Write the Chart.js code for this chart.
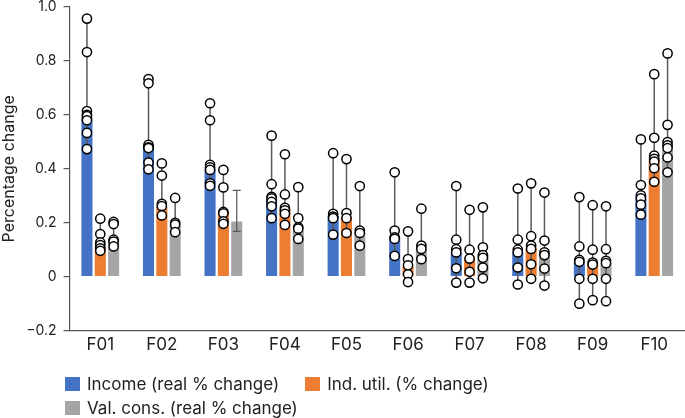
<!DOCTYPE html>
<html>
<head>
<meta charset="utf-8">
<script src="https://cdn.jsdelivr.net/npm/chart.js@4"></script>
<style>
  html, body { margin: 0; padding: 0; background: #fff; }
  #wrap { position: relative; width: 685px; height: 418px; }
  #legend { position: absolute; left: 65px; top: 375px; width: 470px; display: flex; flex-wrap: wrap;
            font-family: Inter, sans-serif; font-size: 17px; color: #222; }
  .item { display: flex; align-items: center; height: 17px; margin-right: 26px; margin-bottom: 7px; }
  .box { width: 15px; height: 14px; margin-right: 7px; }
</style>
</head>
<body>
<div id="wrap">
  <canvas id="chart" width="685" height="418"></canvas>
  <div id="legend"></div>
</div>
<script>
const categories = ['F01', 'F02', 'F03', 'F04', 'F05', 'F06', 'F07', 'F08', 'F09', 'F10'];
const seriesNames = ['Income (real % change)', 'Ind. util. (% change)', 'Val. cons. (real % change)'];
const seriesColors = ['#4472C4', '#ED7D31', '#A5A5A5'];

// bar heights
const incomeBars = [0.59, 0.49, 0.40, 0.29, 0.225, 0.15, 0.09, 0.09, 0.055, 0.30];
const utilBars = [0.11, 0.26, 0.24, 0.25, 0.22, 0.04, 0.07, 0.105, 0.05, 0.44];
const consBars = [0.14, 0.19, 0.205, 0.17, 0.165, 0.10, 0.08, 0.085, 0.05, 0.47];

// individual model results (circles)
const incomePoints = [
  [0.957, 0.833, 0.614, 0.60, 0.595, 0.58, 0.533, 0.473],
  [0.733, 0.717, 0.489, 0.48, 0.477, 0.423, 0.398],
  [0.643, 0.58, 0.415, 0.405, 0.396, 0.346, 0.337],
  [0.523, 0.343, 0.296, 0.29, 0.277, 0.261, 0.217],
  [0.458, 0.233, 0.223, 0.217, 0.156],
  [0.387, 0.171, 0.146, 0.14, 0.077],
  [0.336, 0.137, 0.102, 0.09, 0.031, -0.022],
  [0.327, 0.137, 0.10, 0.09, 0.034, -0.029],
  [0.295, 0.112, 0.062, 0.055, -0.008, -0.10],
  [0.509, 0.34, 0.302, 0.29, 0.267, 0.23]
];
const utilPoints = [
  [0.215, 0.158, 0.127, 0.117, 0.105, 0.096],
  [0.42, 0.375, 0.27, 0.262, 0.227],
  [0.396, 0.331, 0.24, 0.235, 0.205, 0.196],
  [0.454, 0.305, 0.255, 0.246, 0.233, 0.192],
  [0.436, 0.236, 0.217, 0.162],
  [0.168, 0.065, 0.042, 0.009, -0.02],
  [0.248, 0.10, 0.067, 0.018, -0.022],
  [0.346, 0.15, 0.115, 0.103, 0.046, -0.008],
  [0.265, 0.10, 0.052, 0.045, -0.008, -0.087],
  [0.751, 0.515, 0.449, 0.437, 0.427, 0.402, 0.352]
];
const consPoints = [
  [0.203, 0.195, 0.137, 0.13, 0.112],
  [0.292, 0.20, 0.193, 0.165],
  [],
  [0.332, 0.217, 0.183, 0.178, 0.14],
  [0.336, 0.171, 0.162, 0.115],
  [0.252, 0.115, 0.103, 0.065],
  [0.257, 0.109, 0.08, 0.07, 0.034, -0.006],
  [0.312, 0.134, 0.09, 0.08, 0.03, -0.033],
  [0.261, 0.102, 0.059, 0.05, -0.008, -0.091],
  [0.828, 0.563, 0.499, 0.487, 0.477, 0.442, 0.387]
];
// error bar (only F03 val. cons.)
const consErrLow = [null, null, 0.168, null, null, null, null, null, null, null];
const consErrHigh = [null, null, 0.32, null, null, null, null, null, null, null];

const yTicks = [-0.2, 0, 0.2, 0.4, 0.6, 0.8, 1.0];

const allPoints = [incomePoints, utilPoints, consPoints];

// whiskers + circles drawn on top of bars
const whiskerPlugin = {
  id: 'whiskers',
  afterDatasetsDraw(chart) {
    const ctx = chart.ctx;
    const yScale = chart.scales.y;
    ctx.save();
    allPoints.forEach((byCat, d) => {
      const meta = chart.getDatasetMeta(d);
      meta.data.forEach((bar, i) => {
        const pts = byCat[i];
        if (!pts.length) return;
        const top = yScale.getPixelForValue(Math.max(...pts));
        const bottom = yScale.getPixelForValue(Math.min(...pts));
        ctx.strokeStyle = '#5a5a5a';
        ctx.lineWidth = 1.5;
        ctx.beginPath();
        ctx.moveTo(bar.x, top);
        ctx.lineTo(bar.x, bottom);
        ctx.stroke();
      });
    });
    // error bar
    const consMeta = chart.getDatasetMeta(2);
    consErrLow.forEach((lo, i) => {
      if (lo === null) return;
      const x = consMeta.data[i].x;
      const y1 = yScale.getPixelForValue(lo);
      const y2 = yScale.getPixelForValue(consErrHigh[i]);
      ctx.strokeStyle = '#5a5a5a';
      ctx.lineWidth = 1.2;
      ctx.beginPath();
      ctx.moveTo(x, y1); ctx.lineTo(x, y2);
      ctx.moveTo(x - 4, y1); ctx.lineTo(x + 4, y1);
      ctx.moveTo(x - 4, y2); ctx.lineTo(x + 4, y2);
      ctx.stroke();
    });
    allPoints.forEach((byCat, d) => {
      const meta = chart.getDatasetMeta(d);
      meta.data.forEach((bar, i) => {
        byCat[i].forEach(v => {
          ctx.beginPath();
          ctx.arc(bar.x, yScale.getPixelForValue(v), 4.6, 0, Math.PI * 2);
          ctx.fillStyle = '#fff';
          ctx.fill();
          ctx.strokeStyle = '#000';
          ctx.lineWidth = 1.5;
          ctx.stroke();
        });
      });
    });
    ctx.restore();
  }
};

const fontFamily = 'Inter, sans-serif';

new Chart(document.getElementById('chart'), {
  type: 'bar',
  data: {
    labels: categories,
    datasets: [
      { label: seriesNames[0], data: incomeBars, backgroundColor: seriesColors[0] },
      { label: seriesNames[1], data: utilBars, backgroundColor: seriesColors[1] },
      { label: seriesNames[2], data: consBars, backgroundColor: seriesColors[2] }
    ]
  },
  options: {
    responsive: false,
    animation: false,
    categoryPercentage: 0.65,
    barPercentage: 0.83,
    layout: { padding: { top: 0, right: 0, bottom: 59, left: 0 } },
    plugins: {
      legend: { display: false },
      tooltip: { enabled: false }
    },
    scales: {
      x: {
        grid: { display: false, drawTicks: false },
        border: { color: '#555', width: 1.2 },
        ticks: { color: '#222', padding: 4, font: { family: fontFamily, size: 17 } }
      },
      y: {
        min: -0.2,
        max: 1.0,
        afterBuildTicks: axis => { axis.ticks = yTicks.map(v => ({ value: v })); },
        afterFit: scale => { scale.paddingTop = 7; },
        grid: { drawOnChartArea: false, drawTicks: true, tickLength: 6, color: '#555', lineWidth: 1.2 },
        border: { color: '#555', width: 1.2 },
        ticks: {
          color: '#222',
          padding: 7,
          font: { family: fontFamily, size: 14 },
          callback: v => v === 0 ? '0' : (v < 0 ? '\u2212' + Math.abs(v).toFixed(1) : v.toFixed(1))
        },
        title: { display: true, text: 'Percentage change', color: '#222', font: { family: fontFamily, size: 16 }, padding: { top: 0, bottom: 0 } }
      }
    }
  },
  plugins: [whiskerPlugin]
});

// html legend
const legendEl = document.getElementById('legend');
seriesNames.forEach((name, i) => {
  const item = document.createElement('div');
  item.className = 'item';
  const box = document.createElement('span');
  box.className = 'box';
  box.style.background = seriesColors[i];
  const txt = document.createElement('span');
  txt.textContent = name;
  item.appendChild(box);
  item.appendChild(txt);
  legendEl.appendChild(item);
});
</script>
</body>
</html>
